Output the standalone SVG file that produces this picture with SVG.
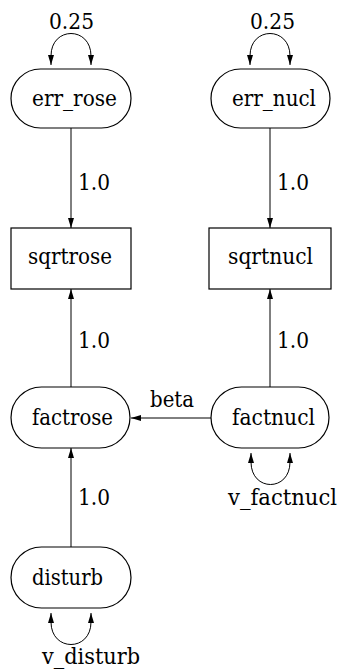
<svg xmlns="http://www.w3.org/2000/svg" width="341" height="669" viewBox="0 0 341 669">
<style>
text{font-family:"DejaVu Serif","Liberation Serif",serif;font-size:23px;fill:#000}
.n{fill:#fff;stroke:#000;stroke-width:1.2}
.e{fill:none;stroke:#000;stroke-width:1}
</style>
<defs>
<marker id="ah" viewBox="0 0 10 6" refX="10" refY="3" markerWidth="10" markerHeight="6" markerUnits="userSpaceOnUse" orient="auto">
<path d="M0,0 L10,3 L0,6 Z" fill="#000"/>
</marker>
</defs>
<rect width="341" height="669" fill="#fff"/>
<g id="connectors">
<line class="e" x1="71" y1="128" x2="71" y2="228" marker-end="url(#ah)"/>
<line class="e" x1="270" y1="128" x2="270" y2="228" marker-end="url(#ah)"/>
<line class="e" x1="71" y1="387" x2="71" y2="289" marker-end="url(#ah)"/>
<line class="e" x1="270" y1="387" x2="270" y2="289" marker-end="url(#ah)"/>
<line class="e" x1="71" y1="547" x2="71" y2="448" marker-end="url(#ah)"/>
<line class="e" x1="211" y1="418" x2="131" y2="418" marker-end="url(#ah)"/>
<path class="e" d="M51,56 C51,26 91,26 91,56" />
<line class="e" x1="51" y1="56" x2="51" y2="65" marker-end="url(#ah)"/>
<line class="e" x1="91" y1="56" x2="91" y2="65" marker-end="url(#ah)"/>
<path class="e" d="M250,56 C250,26 290,26 290,56" />
<line class="e" x1="250" y1="56" x2="250" y2="65" marker-end="url(#ah)"/>
<line class="e" x1="290" y1="56" x2="290" y2="65" marker-end="url(#ah)"/>
<path class="e" d="M251,462 C251,492 290,492 290,462" />
<line class="e" x1="251" y1="462" x2="251" y2="453" marker-end="url(#ah)"/>
<line class="e" x1="290" y1="462" x2="290" y2="453" marker-end="url(#ah)"/>
<path class="e" d="M51,622 C51,652 91,652 91,622" />
<line class="e" x1="51" y1="622" x2="51" y2="613" marker-end="url(#ah)"/>
<line class="e" x1="91" y1="622" x2="91" y2="613" marker-end="url(#ah)"/>
<text x="78" y="190" textLength="32" lengthAdjust="spacingAndGlyphs">1.0</text>
<text x="277" y="190" textLength="32" lengthAdjust="spacingAndGlyphs">1.0</text>
<text x="78" y="348" textLength="32" lengthAdjust="spacingAndGlyphs">1.0</text>
<text x="277" y="348" textLength="32" lengthAdjust="spacingAndGlyphs">1.0</text>
<text x="78" y="505" textLength="32" lengthAdjust="spacingAndGlyphs">1.0</text>
<text x="150" y="407" textLength="44" lengthAdjust="spacingAndGlyphs">beta</text>
<text x="49" y="29" textLength="45" lengthAdjust="spacingAndGlyphs">0.25</text>
<text x="250" y="29" textLength="45" lengthAdjust="spacingAndGlyphs">0.25</text>
<text x="228" y="505" textLength="109" lengthAdjust="spacingAndGlyphs">v_factnucl</text>
<text x="42" y="664" textLength="98" lengthAdjust="spacingAndGlyphs">v_disturb</text>
</g>
<g id="err_rose">
<rect class="n" x="11" y="69" width="120" height="59" rx="29.5"/>
<text x="32" y="106" textLength="85" lengthAdjust="spacingAndGlyphs">err_rose</text>
</g>
<g id="err_nucl">
<rect class="n" x="211" y="69" width="119" height="59" rx="29.5"/>
<text x="232" y="106" textLength="84" lengthAdjust="spacingAndGlyphs">err_nucl</text>
</g>
<g id="sqrtrose">
<rect class="n" x="11" y="228" width="120" height="61"/>
<text x="28" y="264" textLength="84" lengthAdjust="spacingAndGlyphs">sqrtrose</text>
</g>
<g id="sqrtnucl">
<rect class="n" x="209" y="228" width="122" height="61"/>
<text x="228" y="264" textLength="85" lengthAdjust="spacingAndGlyphs">sqrtnucl</text>
</g>
<g id="factrose">
<rect class="n" x="11" y="387" width="119" height="61" rx="30.5"/>
<text x="32" y="425" textLength="81" lengthAdjust="spacingAndGlyphs">factrose</text>
</g>
<g id="factnucl">
<rect class="n" x="211" y="387" width="118" height="61" rx="30.5"/>
<text x="232" y="425" textLength="83" lengthAdjust="spacingAndGlyphs">factnucl</text>
</g>
<g id="disturb">
<rect class="n" x="11" y="547" width="120" height="61" rx="30.5"/>
<text x="32" y="585" textLength="71" lengthAdjust="spacingAndGlyphs">disturb</text>
</g>
</svg>
